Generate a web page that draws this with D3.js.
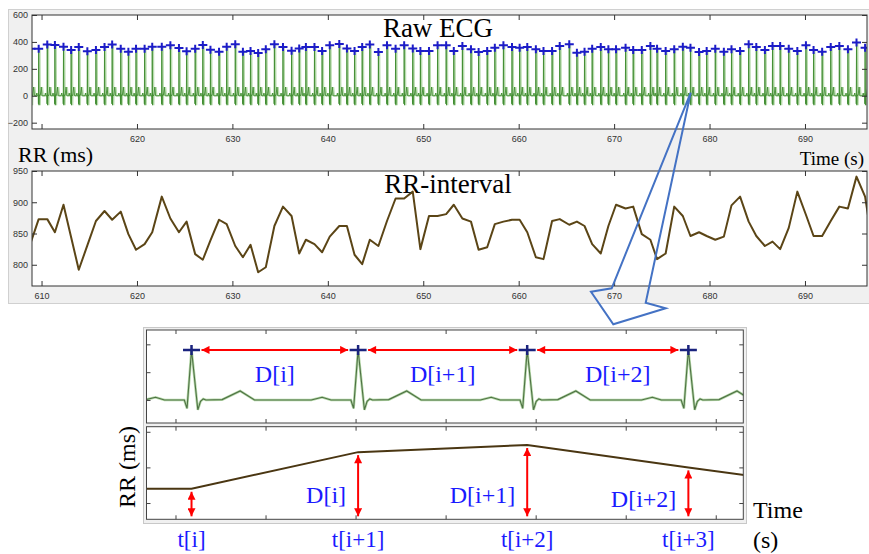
<!DOCTYPE html>
<html>
<head>
<meta charset="utf-8">
<script src="https://cdn.jsdelivr.net/npm/d3@7"></script>
<style>
  body { margin: 0; background: #fff; }
  svg { display: block; }
</style>
</head>
<body>
<svg id="chart" width="869" height="554"></svg>
<script>
// ---------- data ----------

// beat (R-peak) times in seconds
const beatTimes = [608.9, 609.7, 610.6, 611.4, 612.3, 613.1, 613.9, 614.8, 615.7, 616.6,
  617.4, 618.3, 619.1, 619.9, 620.8, 621.6, 622.6, 623.5, 624.4, 625.2,
  626.1, 626.9, 627.7, 628.6, 629.4, 630.3, 631.1, 631.9, 632.7, 633.5,
  634.4, 635.3, 636.2, 637.0, 637.7, 638.6, 639.4, 640.2, 641.2, 642.0,
  642.8, 643.6, 644.4, 645.3, 646.2, 647.1, 648.0, 648.9, 649.7, 650.6,
  651.5, 652.4, 653.2, 654.1, 655.0, 655.8, 656.7, 657.5, 658.4, 659.3,
  660.1, 660.9, 661.8, 662.6, 663.5, 664.3, 665.3, 666.1, 666.9, 667.7,
  668.6, 669.4, 670.2, 671.2, 672.0, 672.9, 673.8, 674.5, 675.4, 676.3,
  677.2, 678.0, 678.9, 679.7, 680.6, 681.5, 682.3, 683.2, 684.1, 684.9,
  685.8, 686.6, 687.4, 688.3, 689.2, 690.1, 690.9, 691.8, 692.7, 693.6,
  694.5, 695.4, 696.3, 697.2];

// RR interval (ms) at each beat
const rrValues = [837, 873, 873, 852, 896, 844, 792, 831, 870, 886,
  872, 885, 849, 824, 833, 852, 909, 874, 852, 869,
  817, 808, 839, 872, 865, 830, 812, 832, 788, 796,
  862, 893, 878, 818, 840, 833, 820, 845, 862, 862,
  816, 801, 840, 830, 870, 906, 906, 917, 825, 878,
  878, 881, 896, 874, 869, 824, 828, 865, 869, 872,
  872, 852, 812, 809, 870, 873, 864, 869, 862, 833,
  818, 862, 896, 890, 893, 849, 840, 809, 818, 893,
  878, 846, 852, 846, 840, 845, 895, 909, 869, 846,
  830, 837, 825, 859, 917, 880, 846, 846, 870, 893,
  890, 941, 909, 820];

// R-peak amplitude of the raw ECG (blue + markers)
const peakAmps = [350,
  350, 380, 377, 365, 340, 362, 330, 340, 362, 380,
  350, 327, 350, 350, 365, 365, 375, 355, 330, 350,
  377, 342, 327, 365, 382, 327, 332, 317, 345, 382,
  362, 335, 352,
  362, 362, 332, 375, 385, 352, 332, 362, 380, 325,
  375, 350, 375, 352, 332, 332, 375, 375, 332, 370,
  345, 325, 332, 357, 375, 362, 357, 362, 345, 332,
  332, 370, 382, 320, 327,
  350, 362, 345, 345, 357, 340, 340, 370, 350, 332,
  345, 365, 357, 325, 332, 350, 327, 345, 332, 382,
  362, 340, 370, 370, 350, 332, 375, 340, 327, 362,
  370, 345, 395, 357,
  345];

// one heartbeat: [seconds from R peak, value], null = the R peak itself
const ecgTemplate = [[-0.26, 0], [-0.2, 20], [-0.15, 0], [-0.04, 0], [-0.025, -60],
  [0, null], [0.035, -70], [0.05, -10], [0.065, 8], [0.08, 0],
  [0.17, 3], [0.27, 65], [0.35, 0]];

const timeTicks = [610, 620, 630, 640, 650, 660, 670, 680, 690];
const ecgTickLabelsX = [620, 630, 640, 650, 660, 670, 680, 690];
const ecgTicksY = [-200, 0, 200, 400, 600];
const rrTicksY = [800, 850, 900, 950];

// zoomed-in schematic (seconds within the zoom window)
const insetBeats = [0.089, 1.014, 1.953, 2.848];
const insetPeak = 360;
const insetRRTimes = [-0.3, 0.089, 1.014, 1.953, 2.848, 3.75];
const insetRRValues = [853, 853, 925, 939, 895, 851];
const insetTicksX = [0, 0.5, 1, 1.5, 2, 2.5, 3];
const insetEcgTicksY = [0, 200, 400];
const insetRRTicksY = [825, 895, 965];
const intervalLabels = ["D[i]", "D[i+1]", "D[i+2]"];
const beatLabels = ["t[i]", "t[i+1]", "t[i+2]", "t[i+3]"];

// blue call-out shape (pixel positions)
const callout = [[690.7, 92.7], [611.7, 288.3], [591, 291.7], [613.3, 324.3], [665.7, 308.3], [645.7, 302.7]];

// ---------- setup ----------

const svg = d3.select("#chart");
const serif = "'Liberation Serif', 'Times New Roman', serif";
const sans = "'Liberation Sans', Arial, sans-serif";
const blueText = "#1a1aff";

const defs = svg.append("defs");
defs.append("marker")
  .attr("id", "arrow")
  .attr("viewBox", "0 0 10 10")
  .attr("refX", 10).attr("refY", 5)
  .attr("markerWidth", 10).attr("markerHeight", 8)
  .attr("markerUnits", "userSpaceOnUse")
  .attr("orient", "auto-start-reverse")
  .append("path").attr("d", "M0,0 L10,5 L0,10 z").attr("fill", "#ff0000");

let clipCount = 0;
function clipFor(x, y) {
  const id = "clip" + (clipCount++);
  defs.append("clipPath").attr("id", id)
    .append("rect")
    .attr("x", x.range()[0]).attr("y", y.range()[1])
    .attr("width", x.range()[1] - x.range()[0])
    .attr("height", y.range()[0] - y.range()[1]);
  return "url(#" + id + ")";
}

function ecgPoints(beats, amps) {
  const pts = [];
  beats.forEach((t, i) => {
    ecgTemplate.forEach(([dt, v]) => pts.push([t + dt, v === null ? amps[i] : v]));
  });
  return pts;
}

function plusPath(cx, cy, hw, hh) {
  return `M${cx - hw},${cy}H${cx + hw}M${cx},${cy - hh}V${cy + hh}`;
}

function drawFrameBg(x, y) {
  svg.append("rect")
    .attr("x", x.range()[0]).attr("y", y.range()[1])
    .attr("width", x.range()[1] - x.range()[0])
    .attr("height", y.range()[0] - y.range()[1])
    .attr("fill", "#fff");
}

function drawAxes(x, y, xTicks, xLabels, yTicks, showY, tick, color) {
  const [x0, x1] = x.range();
  const [y0, y1] = y.range();
  const g = svg.append("g");
  const fmtX = d => (xLabels && xLabels.includes(d)) ? d : "";
  g.append("g").attr("transform", `translate(0,${y0})`)
    .call(d3.axisBottom(x).tickValues(xTicks).tickSizeInner(-tick).tickSizeOuter(0).tickPadding(7).tickFormat(fmtX));
  g.append("g").attr("transform", `translate(0,${y1})`)
    .call(d3.axisTop(x).tickValues(xTicks).tickSizeInner(-tick).tickSizeOuter(0).tickFormat(""));
  g.append("g").attr("transform", `translate(${x0},0)`)
    .call(d3.axisLeft(y).tickValues(yTicks).tickSizeInner(-tick).tickSizeOuter(0).tickPadding(4)
      .tickFormat(showY ? d3.format("d") : ""));
  g.append("g").attr("transform", `translate(${x1},0)`)
    .call(d3.axisRight(y).tickValues(yTicks).tickSizeInner(-tick).tickSizeOuter(0).tickFormat(""));
  g.selectAll(".domain").remove();
  g.selectAll(".tick line").attr("stroke", color);
  g.selectAll(".tick text").attr("fill", "#333").attr("font-family", sans).attr("font-size", 9);
  g.append("rect")
    .attr("x", x0).attr("y", y1).attr("width", x1 - x0).attr("height", y0 - y1)
    .attr("fill", "none").attr("stroke", color).attr("stroke-width", 1);
}

// ---------- top figure (raw ECG + RR) ----------

svg.append("rect")
  .attr("x", 8.5).attr("y", 9.5).attr("width", 862).attr("height", 294)
  .attr("fill", "#f0f0f0").attr("stroke", "#d0d0d0");

const x = d3.scaleLinear().domain([609.0, 696.5]).range([32, 867]);
const yEcg = d3.scaleLinear().domain([-247, 600]).range([129, 15]);
const yRR = d3.scaleLinear().domain([766, 950]).range([286, 171]);

function drawRawEcg() {
  drawFrameBg(x, yEcg);
  const clip = clipFor(x, yEcg);
  const pts = ecgPoints(beatTimes, peakAmps);
  const line = d3.line().x(d => x(d[0])).y(d => yEcg(d[1]));
  const g = svg.append("g").attr("clip-path", clip);
  g.append("path").attr("d", line(pts))
    .attr("transform", "translate(1.2,0)")
    .attr("fill", "none").attr("stroke", "#b9dcae").attr("stroke-width", 1.4);
  g.append("path").attr("d", line(pts))
    .attr("fill", "none").attr("stroke", "#3f8c30").attr("stroke-width", 0.9);
  g.selectAll(".peak")
    .data(beatTimes)
    .join("path")
    .attr("class", "peak")
    .attr("d", (t, i) => plusPath(x(t), yEcg(peakAmps[i]), 4.5, 4))
    .attr("fill", "none").attr("stroke", "#1c1cc8").attr("stroke-width", 2);
  drawAxes(x, yEcg, timeTicks, ecgTickLabelsX, ecgTicksY, true, 5, "#333");
  svg.append("text").attr("x", 438).attr("y", 37)
    .attr("text-anchor", "middle").attr("font-family", serif).attr("font-size", 27)
    .attr("fill", "#000").text("Raw ECG");
}

function drawRR() {
  drawFrameBg(x, yRR);
  const clip = clipFor(x, yRR);
  const line = d3.line().x((t) => x(t)).y((t, i) => yRR(rrValues[i]));
  svg.append("g").attr("clip-path", clip)
    .append("path").attr("d", line(beatTimes))
    .attr("fill", "none").attr("stroke", "#5b4516").attr("stroke-width", 2)
    .attr("stroke-linejoin", "round");
  drawAxes(x, yRR, timeTicks, timeTicks, rrTicksY, true, 5, "#333");
  svg.append("text").attr("x", 448).attr("y", 193)
    .attr("text-anchor", "middle").attr("font-family", serif).attr("font-size", 27)
    .attr("fill", "#000").text("RR-interval");
  svg.append("text").attr("x", 18).attr("y", 162)
    .attr("font-family", serif).attr("font-size", 22).attr("fill", "#000").text("RR (ms)");
  svg.append("text").attr("x", 864).attr("y", 165)
    .attr("text-anchor", "end").attr("font-family", serif).attr("font-size", 19)
    .attr("fill", "#000").text("Time (s)");
}

// ---------- zoomed schematic ----------

const ix = d3.scaleLinear().domain([-0.161, 3.153]).range([146.5, 743.3]);
const iyEcg = d3.scaleLinear().domain([-165, 503]).range([423, 330]);
const iyRR = d3.scaleLinear().domain([793, 975]).range([519.3, 426.7]);

function drawInset() {
  svg.append("rect")
    .attr("x", 143.5).attr("y", 327.5).attr("width", 603).attr("height", 196)
    .attr("fill", "#f0f0f0").attr("stroke", "#c8c8c8");

  // ECG part
  drawFrameBg(ix, iyEcg);
  const clipE = clipFor(ix, iyEcg);
  const pts = ecgPoints(insetBeats, insetBeats.map(() => insetPeak));
  const line = d3.line().x(d => ix(d[0])).y(d => iyEcg(d[1]));
  const g = svg.append("g").attr("clip-path", clipE);
  g.append("path").attr("d", line(pts))
    .attr("fill", "none").attr("stroke", "#b5d8a8").attr("stroke-width", 2.6);
  g.append("path").attr("d", line(pts))
    .attr("fill", "none").attr("stroke", "#4f7245").attr("stroke-width", 1.1);

  // interval arrows between peaks
  const ya = iyEcg(insetPeak);
  svg.selectAll(".harrow")
    .data(insetBeats.slice(1))
    .join("line")
    .attr("class", "harrow")
    .attr("x1", (t, i) => ix(insetBeats[i]) + 10)
    .attr("x2", t => ix(t) - 10)
    .attr("y1", ya).attr("y2", ya)
    .attr("stroke", "#ff0000").attr("stroke-width", 2)
    .attr("marker-start", "url(#arrow)").attr("marker-end", "url(#arrow)");

  svg.selectAll(".ipeak")
    .data(insetBeats)
    .join("path")
    .attr("class", "ipeak")
    .attr("d", t => plusPath(ix(t), iyEcg(insetPeak), 8.5, 5))
    .attr("fill", "none").attr("stroke", "#1a237e").attr("stroke-width", 2.5);

  const dx = [0, 0, 10];
  svg.selectAll(".dlab")
    .data(intervalLabels)
    .join("text")
    .attr("class", "dlab")
    .attr("x", (d, i) => (ix(insetBeats[i]) + ix(insetBeats[i + 1])) / 2 + dx[i])
    .attr("y", 382)
    .attr("text-anchor", "middle").attr("font-family", serif).attr("font-size", 24)
    .attr("fill", blueText).text(d => d);

  drawAxes(ix, iyEcg, insetTicksX, null, insetEcgTicksY, false, 4, "#444");

  // RR part
  drawFrameBg(ix, iyRR);
  const clipR = clipFor(ix, iyRR);
  const rline = d3.line().x(t => ix(t)).y((t, i) => iyRR(insetRRValues[i]));
  svg.append("g").attr("clip-path", clipR)
    .append("path").attr("d", rline(insetRRTimes))
    .attr("fill", "none").attr("stroke", "#4a3612").attr("stroke-width", 2);

  const bottom = iyRR.range()[0];
  svg.selectAll(".varrow")
    .data(insetBeats)
    .join("line")
    .attr("class", "varrow")
    .attr("x1", t => ix(t)).attr("x2", t => ix(t))
    .attr("y1", (t, i) => iyRR(insetRRValues[i + 1]) + 3)
    .attr("y2", bottom - 3)
    .attr("stroke", "#ff0000").attr("stroke-width", 2)
    .attr("marker-start", "url(#arrow)").attr("marker-end", "url(#arrow)");

  svg.selectAll(".rlab")
    .data(intervalLabels)
    .join("text")
    .attr("class", "rlab")
    .attr("x", (d, i) => ix(insetBeats[i + 1]) - 12)
    .attr("y", (d, i) => i === 2 ? 507 : 503)
    .attr("text-anchor", "end").attr("font-family", serif).attr("font-size", 24)
    .attr("fill", blueText).text(d => d);

  drawAxes(ix, iyRR, insetTicksX, null, insetRRTicksY, false, 4, "#444");

  svg.selectAll(".tlab")
    .data(beatLabels)
    .join("text")
    .attr("class", "tlab")
    .attr("x", (d, i) => ix(insetBeats[i]))
    .attr("y", 547)
    .attr("text-anchor", "middle").attr("font-family", serif).attr("font-size", 23)
    .attr("fill", blueText).text(d => d);

  svg.append("text").attr("x", 753).attr("y", 518)
    .attr("font-family", serif).attr("font-size", 24).attr("fill", "#000").text("Time");
  svg.append("text").attr("x", 753).attr("y", 548)
    .attr("font-family", serif).attr("font-size", 24).attr("fill", "#000").text("(s)");
  svg.append("text")
    .attr("transform", "translate(135,467) rotate(-90)")
    .attr("text-anchor", "middle").attr("font-family", serif).attr("font-size", 24)
    .attr("fill", "#000").text("RR (ms)");
}

function drawCallout() {
  svg.append("polygon")
    .attr("points", callout.map(p => p.join(",")).join(" "))
    .attr("fill", "none").attr("stroke", "#4472c4").attr("stroke-width", 2)
    .attr("stroke-linejoin", "miter");
}

drawRawEcg();
drawRR();
drawInset();
drawCallout();
</script>
</body>
</html>
